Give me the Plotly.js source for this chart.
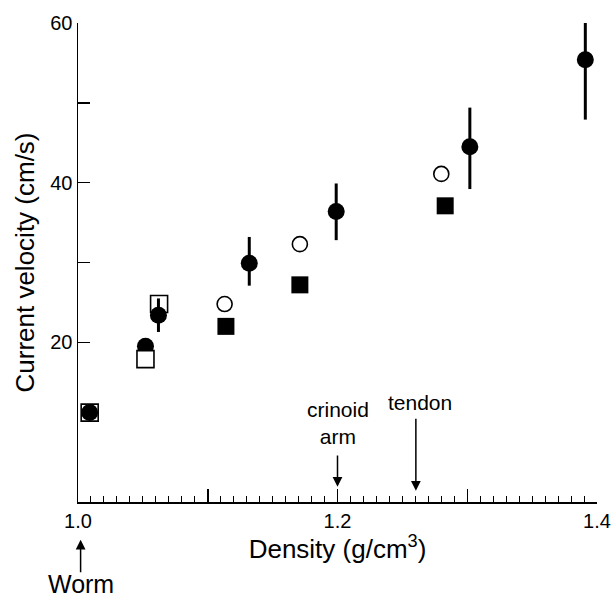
<!DOCTYPE html>
<html>
<head>
<meta charset="utf-8">
<script src="https://cdn.plot.ly/plotly-3.0.1.min.js"></script>
<style>html,body{margin:0;padding:0;background:#fff;}</style>
</head>
<body>
<div id="chart" style="width:615px;height:599px;"></div>
<script>
// Filled circles (mean with error bars)
const filledCircleX = [1.009, 1.052, 1.062, 1.132, 1.199, 1.302, 1.391];
const filledCircleY = [11.2, 19.5, 23.4, 29.9, 36.4, 44.5, 55.4];
const filledCircleErrPlus = [0, 0, 2.1, 3.3, 3.5, 4.9, 5.8];
const filledCircleErrMinus = [0, 0, 2.1, 2.8, 3.6, 5.3, 7.5];
// Open circles
const openCircleX = [1.113, 1.171, 1.280];
const openCircleY = [24.8, 32.3, 41.1];
// Filled squares
const filledSquareX = [1.114, 1.171, 1.283];
const filledSquareY = [22.0, 27.2, 37.1];
// Open squares
const openSquareX = [1.009, 1.052, 1.0625];
const openSquareY = [11.2, 17.9, 24.8];
const openSquareOnTop = [false, true, false];
// Axis ticks
const xTickVals = [1.0, 1.1, 1.2, 1.3, 1.4];
const xTickText = ['1.0', '', '1.2', '', '1.4'];
const yTickVals = [20, 30, 40, 50, 60];
const yTickText = ['20', '', '40', '', '60'];

const FONT = 'Liberation Sans, Arial, Helvetica, sans-serif';

function pick(arr, flags, want) { return arr.filter((v, i) => flags[i] === want); }

const openSqStyle = {symbol: 'square', size: 17, color: '#ffffff', line: {color: '#000', width: 1.6}};

const traces = [
  {x: pick(openSquareX, openSquareOnTop, false), y: pick(openSquareY, openSquareOnTop, false),
   mode: 'markers', type: 'scatter', marker: openSqStyle, cliponaxis: false, hoverinfo: 'skip'},
  {x: filledCircleX, y: filledCircleY, mode: 'markers', type: 'scatter',
   marker: {symbol: 'circle', size: 17, color: '#000'},
   error_y: {type: 'data', symmetric: false, array: filledCircleErrPlus, arrayminus: filledCircleErrMinus,
             color: '#000', thickness: 3, width: 0},
   cliponaxis: false, hoverinfo: 'skip'},
  {x: pick(openSquareX, openSquareOnTop, true), y: pick(openSquareY, openSquareOnTop, true),
   mode: 'markers', type: 'scatter', marker: openSqStyle, cliponaxis: false, hoverinfo: 'skip'},
  {x: openCircleX, y: openCircleY, mode: 'markers', type: 'scatter',
   marker: {symbol: 'circle', size: 15, color: '#fff', line: {color: '#000', width: 1.6}},
   cliponaxis: false, hoverinfo: 'skip'},
  {x: filledSquareX, y: filledSquareY, mode: 'markers', type: 'scatter',
   marker: {symbol: 'square', size: 17, color: '#000'}, cliponaxis: false, hoverinfo: 'skip'}
];

const arrowStyle = {showarrow: true, arrowhead: 2, arrowsize: 1.3, arrowwidth: 1.5, arrowcolor: '#000',
                    text: '', font: {size: 1}, borderpad: 0};

const layout = {
  width: 615, height: 599,
  margin: {l: 78, r: 18, t: 23, b: 97},
  paper_bgcolor: '#fff', plot_bgcolor: '#fff',
  showlegend: false,
  font: {family: FONT, color: '#000', size: 20},
  xaxis: {
    range: [1.0, 1.4], showgrid: false, zeroline: false,
    showline: true, linecolor: '#000', linewidth: 1.5,
    ticks: 'inside', ticklen: 13, tickwidth: 1.5, tickcolor: '#000',
    tickvals: xTickVals, ticktext: xTickText,
    tickfont: {family: FONT, size: 20, color: '#000'},
    minor: {tick0: 1.0, dtick: 0.01, ticks: 'inside', ticklen: 6, tickwidth: 1, tickcolor: '#000', showgrid: false},
    title: {text: 'Density (g/cm<sup>3</sup>)', font: {family: FONT, size: 26, color: '#000'}, standoff: 8}
  },
  yaxis: {
    range: [0, 60], showgrid: false, zeroline: false,
    showline: true, linecolor: '#000', linewidth: 1.5,
    ticks: 'inside', ticklen: 12, tickwidth: 1.5, tickcolor: '#000',
    tickvals: yTickVals, ticktext: yTickText,
    tickfont: {family: FONT, size: 20, color: '#000'},
    title: {text: 'Current velocity (cm/s)', font: {family: FONT, size: 26, color: '#000'}, standoff: 8}
  },
  annotations: [
    Object.assign({x: 1.2, y: 1.9, xref: 'x', yref: 'y', ax: 1.2, ay: 5.9, axref: 'x', ayref: 'y'}, arrowStyle),
    {x: 1.2, y: 9.84, xref: 'x', yref: 'y', text: 'crinoid<br>arm', showarrow: false,
     font: {family: FONT, size: 21, color: '#000'}},
    Object.assign({x: 1.2604, y: 1.4, xref: 'x', yref: 'y', ax: 1.2604, ay: 10.5, axref: 'x', ayref: 'y'}, arrowStyle),
    {x: 1.2634, y: 12.5, xref: 'x', yref: 'y', text: 'tendon', showarrow: false,
     font: {family: FONT, size: 21, color: '#000'}},
    Object.assign({x: 1.002, y: -0.079, xref: 'x', yref: 'paper', ax: 0, ay: 33}, arrowStyle),
    {x: 1.002, y: -0.205, xref: 'x', yref: 'paper', text: 'Worm', showarrow: false,
     font: {family: FONT, size: 25, color: '#000'}}
  ]
};

Plotly.newPlot('chart', traces, layout, {staticPlot: true, displayModeBar: false});
</script>
</body>
</html>
